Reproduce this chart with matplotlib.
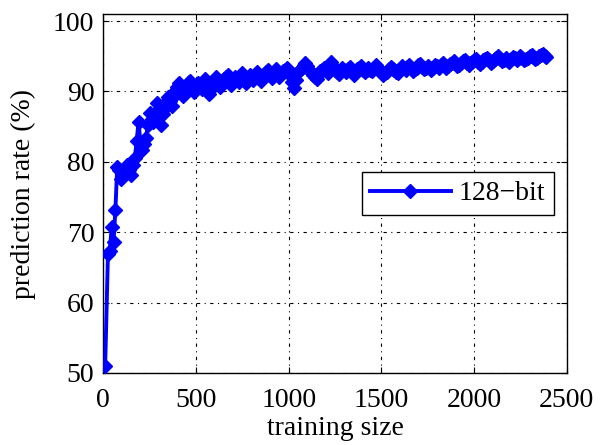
import matplotlib
matplotlib.use("Agg")
import matplotlib.pyplot as plt

plt.rcParams['font.family'] = ['Liberation Serif', 'DejaVu Serif']

# training sizes and the measured prediction rate (%) for 128-bit
train_size = [10, 25, 35, 45, 55, 65, 75, 85, 95] + list(range(100, 2400, 10))
pred_rate = [
    51.0, 66.9, 67.4, 70.7, 68.6, 73.1, 79.3, 78.9, 77.6,
    # 100 - 190
    78.0, 78.4, 79.2, 79.6, 78.8, 78.2, 79.5, 80.6, 83.0, 85.7,
    # 200 - 290
    82.8, 81.7, 82.6, 83.4, 85.2, 87.0, 86.1, 85.6, 86.9, 88.4,
    # 300 - 390
    86.5, 85.2, 86.8, 87.6, 88.5, 89.2, 88.6, 88.0, 89.3, 90.2,
    # 400 - 490
    90.6, 91.2, 90.3, 89.4, 90.1, 90.8, 91.3, 91.5, 90.6, 89.9,
    # 500 - 590
    90.5, 91.2, 90.8, 90.3, 91.1, 91.8, 90.8, 89.7, 90.4, 91.1,
    # 600 - 690
    91.6, 92.0, 91.3, 90.6, 91.2, 91.7, 92.1, 92.3, 91.6, 90.9,
    # 700 - 790
    91.5, 92.0, 91.8, 91.4, 92.1, 92.6, 91.9, 91.2, 91.8, 92.3,
    # 800 - 890
    92.0, 91.6, 92.2, 92.8, 92.2, 91.5, 92.0, 92.5, 92.7, 93.0,
    # 900 - 990
    92.4, 91.9, 92.6, 93.2, 92.7, 92.1, 92.5, 92.9, 93.1, 93.4,
    # 1000 - 1090
    92.8, 92.2, 91.4, 90.5, 91.6, 92.8, 93.0, 93.3, 93.7, 94.1,
    # 1100 - 1190
    93.6, 93.0, 92.7, 92.4, 92.0, 91.8, 92.4, 92.9, 93.1, 93.3,
    # 1200 - 1290
    93.0, 92.6, 93.4, 94.2, 93.6, 93.0, 92.7, 92.5, 93.0, 93.4,
    # 1300 - 1390
    93.1, 92.8, 93.2, 93.5, 92.9, 92.4, 92.8, 93.2, 93.4, 93.6,
    # 1400 - 1490
    93.1, 92.7, 93.0, 93.3, 93.1, 92.9, 93.3, 93.7, 93.4, 93.1,
    # 1500 - 1590
    92.7, 92.4, 92.6, 92.8, 93.2, 93.5, 93.2, 93.0, 92.8, 92.6,
    # 1600 - 1690
    93.1, 93.6, 93.3, 93.1, 93.5, 93.8, 93.3, 92.9, 93.2, 93.4,
    # 1700 - 1790
    93.7, 93.9, 93.5, 93.2, 93.4, 93.6, 93.3, 93.0, 93.4, 93.8,
    # 1800 - 1890
    93.6, 93.4, 93.8, 94.1, 93.7, 93.3, 93.6, 93.9, 94.1, 94.3,
    # 1900 - 1990
    93.9, 93.6, 93.8, 94.0, 94.3, 94.5, 94.1, 93.7, 94.0, 94.2,
    # 2000 - 2090
    94.4, 94.6, 94.2, 93.9, 94.2, 94.4, 94.6, 94.8, 94.4, 94.1,
    # 2100 - 2190
    94.3, 94.6, 94.8, 95.0, 94.6, 94.3, 94.5, 94.7, 94.4, 94.2,
    # 2200 - 2290
    94.6, 94.9, 94.7, 94.5, 94.8, 95.1, 94.7, 94.4, 94.6, 94.8,
    # 2300 - 2390
    95.0, 95.2, 94.9, 94.6, 94.8, 95.0, 95.2, 95.3, 95.1, 94.9,
]
series_label = "128\u2212bit"
x_ticks = [0, 500, 1000, 1500, 2000, 2500]
y_ticks = [50, 60, 70, 80, 90, 100]

fig = plt.figure(figsize=(6.0, 4.45), dpi=100)
ax = fig.add_axes([0.1722, 0.1618, 0.7725, 0.8067])

ax.plot(train_size, pred_rate, '-', color=(0, 0, 1), lw=2.8,
        marker='D', markersize=7.5, markerfacecolor=(0, 0, 1),
        markeredgecolor=(0, 0, 1), label=series_label, zorder=3)

ax.set_xlim(0, 2500)
ax.set_ylim(50, 101)
ax.set_xticks(x_ticks)
ax.set_yticks(y_ticks)

ax.grid(True, color='black', lw=0.8, linestyle=(0, (3, 4, 1, 4)))
ax.tick_params(direction='in', top=True, right=True, length=4,
               labelsize=20)
ax.tick_params(axis='x', pad=11)
ax.tick_params(axis='y', pad=6.5)
for s in ax.spines.values():
    s.set_linewidth(1.0)

ax.set_xlabel("training size", fontsize=20, labelpad=2)
ax.set_ylabel("prediction rate (%)", fontsize=20, labelpad=12)

leg = ax.legend(loc='center right', bbox_to_anchor=(0.972, 0.5),
                numpoints=1, fontsize=20, fancybox=False, framealpha=1,
                edgecolor='black', handlelength=2.9, borderpad=0.3,
                handletextpad=0.3, borderaxespad=0.0)
leg.get_frame().set_linewidth(1.0)

fig.savefig("out.png", dpi=100, facecolor='white')
